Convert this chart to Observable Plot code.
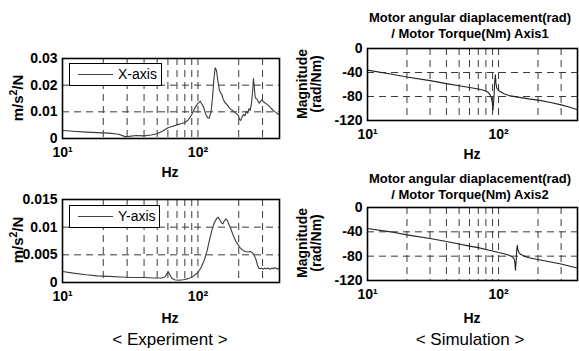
<!DOCTYPE html>
<html>
<head>
<meta charset="utf-8">
<script src="https://cdn.jsdelivr.net/npm/d3@7"></script>
<script src="https://cdn.jsdelivr.net/npm/@observablehq/plot@0.6"></script>
<style>
  html, body { margin: 0; padding: 0; background: #fff; }
  #wrap { position: relative; width: 579px; height: 351px; overflow: hidden; background: #fff;
          font-family: "Liberation Sans", Arial, sans-serif; color: #000; }
  .panel { position: absolute; }
  .t { position: absolute; white-space: nowrap; transform: translate(-50%, -50%); line-height: 1; }
  .b { font-weight: bold; }
  .rot { transform: translate(-50%, -50%) rotate(-90deg); }
  .legend { position: absolute; background: #fff; border: 1.2px solid #000; box-sizing: border-box; }
  .legend .ln { position: absolute; height: 0; border-top: 1px solid #444; }
  .legend .lt { position: absolute; font-size: 14px; line-height: 1; }
</style>
</head>
<body>
<div id="wrap"></div>
<script>
// ---------- data ----------
const xTickValues = [10, 100];
const xTickLabels = ["10¹", "10²"];
const gridFreqs = [20, 30, 40, 50, 60, 70, 80, 90, 100, 200, 300];

// Experiment, X-axis (m/s^2/N)
const expXFreq = [10,12,15,18,22,26,29,31,35,40,45,50,55,60,65,70,75,80,85,90,95,100,104,107,110,114,118,121,125,128,131,134,137,140,144,147,150,153,158,165,172,180,190,198,203,207,212,217,222,228,233,238,243,248,253,257,260,264,268,273,278,283,290,297,303,310,320,330,345,360,375,390,400];
const expXMag  = [0.0030,0.0027,0.0024,0.0022,0.0020,0.0016,0.0007,0.0008,0.0011,0.0010,0.0013,0.0018,0.0028,0.0040,0.0046,0.0051,0.0055,0.0060,0.0070,0.0090,0.0115,0.0132,0.0140,0.0128,0.0118,0.0092,0.0078,0.0076,0.0100,0.0150,0.0220,0.0265,0.0255,0.0220,0.0180,0.0172,0.0165,0.0150,0.0135,0.0125,0.0112,0.0105,0.0095,0.0088,0.0072,0.0068,0.0082,0.0090,0.0085,0.0102,0.0095,0.0112,0.0105,0.0130,0.0175,0.0225,0.0200,0.0158,0.0150,0.0148,0.0140,0.0132,0.0140,0.0145,0.0138,0.0135,0.0130,0.0125,0.0115,0.0105,0.0098,0.0092,0.0090];

// Experiment, Y-axis (m/s^2/N)
const expYFreq = [10,12,15,18,22,27,33,40,48,54,57,59,60.5,62,64,67,72,78,85,92,100,106,112,117,122,127,132,137,141,145,149,153,157,161,165,170,175,182,190,198,206,215,225,235,245,252,260,268,275,280,288,295,303,312,320,330,340,350,360,372,385,400];
const expYMag  = [0.0020,0.0017,0.0014,0.0012,0.0011,0.0010,0.0009,0.0009,0.0008,0.0008,0.0010,0.0016,0.0019,0.0014,0.0008,0.0005,0.0004,0.0005,0.0007,0.0011,0.0018,0.0028,0.0042,0.0058,0.0078,0.0095,0.0108,0.0115,0.0118,0.0113,0.0108,0.0106,0.0112,0.0115,0.0112,0.0104,0.0097,0.0085,0.0075,0.0068,0.0062,0.0058,0.0056,0.0055,0.0056,0.0054,0.0049,0.0042,0.0032,0.0026,0.0025,0.0026,0.0024,0.0026,0.0025,0.0026,0.0024,0.0026,0.0025,0.0027,0.0024,0.0026];

// Simulation, Axis1 (magnitude, rad/Nm)
const simAFreq = [10,15,20,30,40,50,60,70,78,83,86,88,89.5,90.5,91.5,92.5,93.5,94.5,95.5,97,100,110,120,140,170,200,250,300,350,400];
const simAMag  = [-36,-42.5,-47.5,-53.5,-58.5,-62,-65,-67.5,-70,-73,-77,-82,-90,-103,-92,-75,-55,-44,-58,-66,-70,-75.5,-78.5,-81,-84,-86,-90,-94,-98,-102];

// Simulation, Axis2 (magnitude, rad/Nm)
const simBFreq = [10,15,20,30,40,50,60,70,80,90,100,110,120,127,131,133,134.5,136,137.5,139,140.5,143,147,155,170,200,250,300,350,400];
const simBMag  = [-34.5,-40,-45,-51,-56,-60,-63.5,-66,-69,-71.5,-74,-76,-78.5,-81,-84,-89,-103,-90,-70,-62,-70,-74,-77,-79.5,-82.5,-85.5,-89.5,-93,-96.5,-99.5];

const expXTicks = [0, 0.01, 0.02, 0.03];
const expXTickLabels = ["0", "0.01", "0.02", "0.03"];
const expYTicks = [0, 0.005, 0.01, 0.015];
const expYTickLabels = ["0", "0.005", "0.01", "0.015"];
const simTicks = [0, -40, -80, -120];
const simTickLabels = ["0", "-40", "-80", "-120"];

// ---------- drawing ----------
const wrap = document.getElementById("wrap");
const zip = (f, v) => f.map((d, i) => ({f: d, v: v[i]}));

function panel({data, yTicks, yLabels, left, top, width, height, mL, mR, mT, mB, lineColor}) {
  const yDomain = d3.extent(yTicks);
  const innerY = yTicks.filter(t => t !== yDomain[0] && t !== yDomain[1]);
  const chart = Plot.plot({
    width, height,
    marginLeft: mL, marginRight: mR, marginTop: mT, marginBottom: mB,
    style: {fontFamily: '"Liberation Sans", Arial, sans-serif', fontSize: "14px", fontWeight: "bold", background: "transparent", color: "#000"},
    x: {type: "log", domain: [10, 400]},
    y: {domain: yDomain},
    marks: [
      Plot.ruleX(gridFreqs, {stroke: "#3a3a3a", strokeWidth: 1, strokeDasharray: "7,5", strokeOpacity: 1}),
      Plot.ruleY(innerY, {stroke: "#3a3a3a", strokeWidth: 1, strokeDasharray: "7,5", strokeOpacity: 1}),
      Plot.line(data, {x: "f", y: "v", stroke: lineColor, strokeWidth: 1.1}),
      Plot.frame({stroke: "#000", strokeWidth: 1.6}),
      Plot.axisX({ticks: xTickValues, tickFormat: d => xTickLabels[xTickValues.indexOf(d)], tickSize: 0, tickPadding: 9, label: null}),
      Plot.axisY({ticks: yTicks, tickFormat: d => yLabels[yTicks.indexOf(d)], tickSize: 0, tickPadding: 5, label: null})
    ]
  });
  chart.classList.add("panel");
  chart.style.left = left + "px";
  chart.style.top = top + "px";
  wrap.appendChild(chart);
}

panel({data: zip(expXFreq, expXMag), yTicks: expXTicks, yLabels: expXTickLabels,
       left: 0, top: 40, width: 290, height: 130, mL: 62, mR: 11, mT: 18, mB: 32, lineColor: "#3c3c3c"});
panel({data: zip(expYFreq, expYMag), yTicks: expYTicks, yLabels: expYTickLabels,
       left: 0, top: 180, width: 290, height: 130, mL: 62, mR: 11, mT: 19, mB: 28, lineColor: "#3c3c3c"});
panel({data: zip(simAFreq, simAMag), yTicks: simTicks, yLabels: simTickLabels,
       left: 290, top: 30, width: 289, height: 120, mL: 77, mR: 2, mT: 18, mB: 30, lineColor: "#222"});
panel({data: zip(simBFreq, simBMag), yTicks: simTicks, yLabels: simTickLabels,
       left: 290, top: 190, width: 289, height: 120, mL: 77, mR: 2, mT: 17, mB: 30, lineColor: "#222"});

function text(str, x, y, size, cls) {
  const d = document.createElement("div");
  d.className = "t " + (cls || "");
  d.style.left = x + "px";
  d.style.top = y + "px";
  d.style.fontSize = size + "px";
  d.innerHTML = str;
  wrap.appendChild(d);
}
function legend(label, x, y, w, h) {
  const d = document.createElement("div");
  d.className = "legend";
  Object.assign(d.style, {left: x + "px", top: y + "px", width: w + "px", height: h + "px"});
  const ln = document.createElement("div");
  ln.className = "ln";
  Object.assign(ln.style, {left: "8px", width: "35px", top: (h / 2 - 1.5) + "px"});
  const lt = document.createElement("div");
  lt.className = "lt";
  lt.textContent = label;
  Object.assign(lt.style, {left: "48px", top: (h / 2 - 9) + "px"});
  d.appendChild(ln); d.appendChild(lt);
  wrap.appendChild(d);
}

legend("X-axis", 69, 63, 93, 23);
legend("Y-axis", 69, 205, 91, 23);

text("Hz", 170, 172, 14, "b");
text("Hz", 170, 318, 14, "b");
text("Hz", 472, 154, 14, "b");
text("Hz", 472, 318, 14, "b");

text("m/s<sup style='font-size:70%'>2</sup>/N", 16, 98, 15, "b rot");
text("m/s<sup style='font-size:70%'>2</sup>/N", 16, 240, 15, "b rot");
text("Magnitude", 302, 84, 14, "b rot");
text("(rad/Nm)", 316, 84, 14, "b rot");
text("Magnitude", 302, 243, 14, "b rot");
text("(rad/Nm)", 316, 243, 14, "b rot");

text("Motor angular diaplacement(rad)", 470, 17, 13, "b");
text("/ Motor Torque(Nm) Axis1", 470, 33, 13, "b");
text("Motor angular diaplacement(rad)", 470, 178, 13, "b");
text("/ Motor Torque(Nm) Axis2", 470, 194, 13, "b");

text("&lt; Experiment &gt;", 170, 339, 17, "");
text("&lt; Simulation &gt;", 470, 339, 17, "");
</script>
</body>
</html>
